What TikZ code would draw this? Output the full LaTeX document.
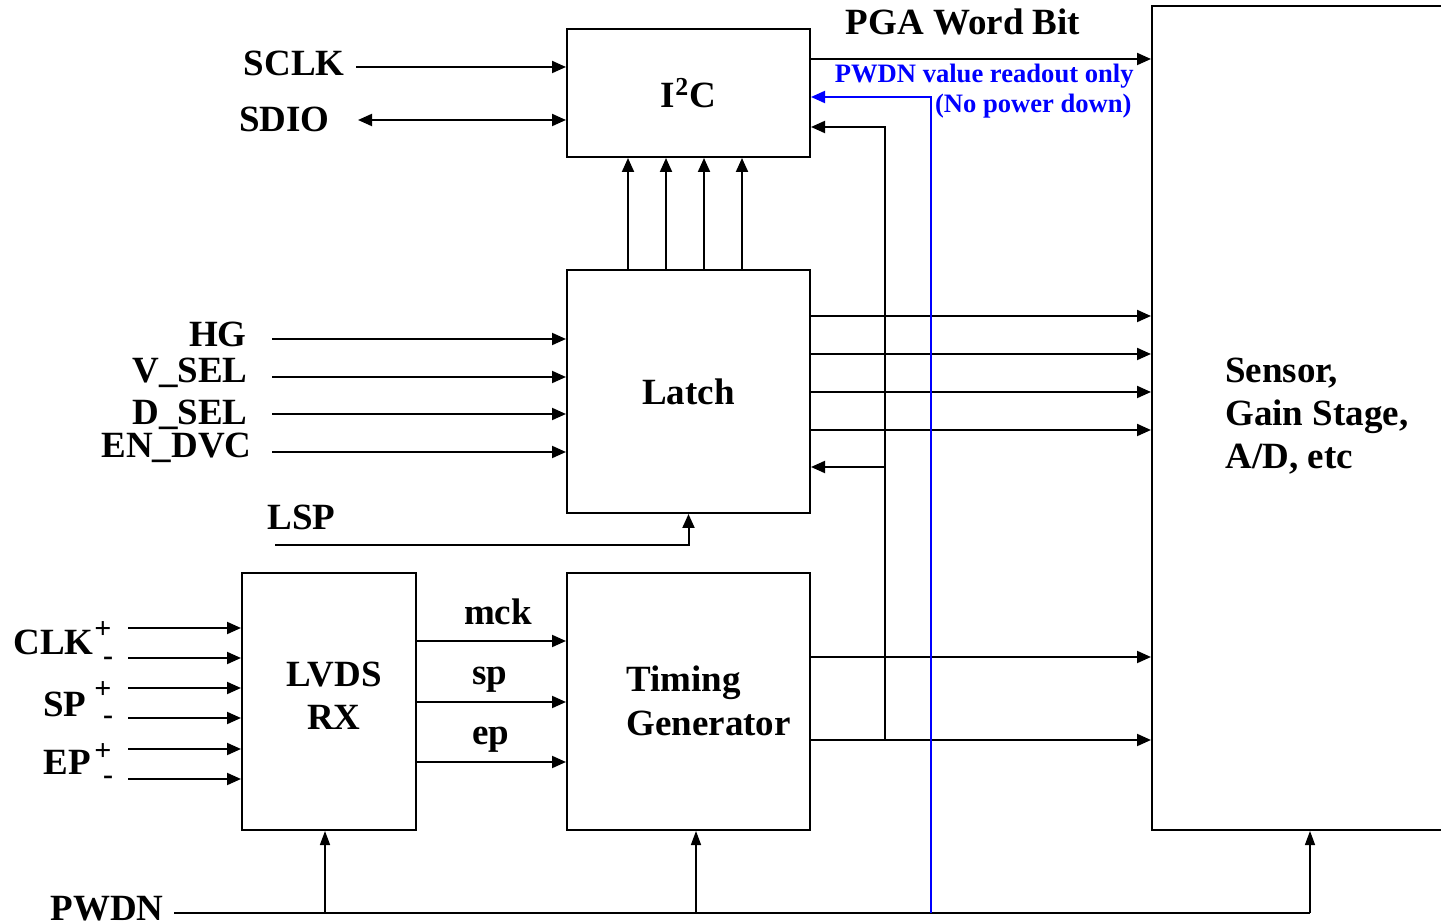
\documentclass[tikz,border=0pt]{standalone}
\usepackage{fontspec}
\setmainfont{Liberation Serif}
\usetikzlibrary{positioning,arrows.meta,calc}
\tikzset{
  blk/.style={draw, line width=1pt, inner sep=0pt, font=\fontsize{18.5}{21.5}\selectfont\bfseries},
  sig/.style={line width=1pt, -{Triangle[length=7pt,width=6pt]}},
  bisig/.style={line width=1pt, {Triangle[length=7pt,width=6pt]}-{Triangle[length=7pt,width=6pt]}},
  pwr/.style={line width=0.7pt, -{Triangle[length=7pt,width=5pt]}},
  lbl/.style={font=\fontsize{18.5}{21.5}\selectfont\bfseries, inner sep=0pt},
  pm/.style={font=\fontsize{15}{15}\selectfont\bfseries, inner sep=0pt},
  note/.style={font=\fontsize{13.3}{15}\selectfont\bfseries, text=blue, inner sep=0pt}
}
\begin{document}
\begin{tikzpicture}[x=0.5pt, y=-0.5pt]
    \useasboundingbox (0,0) rectangle (1441,924);

    % blocks
    \node[blk, minimum width=121.5pt, minimum height=64pt]    (i2c)    at (688.5,93)    {I\textsuperscript{2}C};
    \node[blk, minimum width=121.5pt, minimum height=121.5pt] (latch)  at (688.5,391.5) {Latch};
    \node[blk, minimum width=87pt, minimum height=128.5pt]    (lvds)   at (329,701.5)   {};
    \node[blk, minimum width=121.5pt, minimum height=128.5pt] (tg)     at (688.5,701.5) {};
    \node[blk, minimum width=154pt, minimum height=412pt]     (sensor) at (1306,418)    {};
    \node[lbl, anchor=base, align=center] (lvdstxt) at (334,730) {LVDS\\RX};
    \node[lbl, anchor=base west, align=left] (tgtxt) at (626,735) {Timing\\Generator};
    \node[lbl, anchor=base west, align=left] (sensortxt) at (1225,469) {Sensor,\\Gain Stage,\\A/D, etc};

    % serial port
    \coordinate (sclk) at (356,67);
    \coordinate (sdio) at (358,120);
    \node[lbl, anchor=base east] (sclklbl) at (345,76)  {SCLK};
    \node[lbl, anchor=base east] (sdiolbl) at (330,132) {SDIO};
    \draw[sig]   (sclk) -- (sclk -| i2c.west);
    \draw[bisig] (sdio) -- (sdio -| i2c.west);

    \node[lbl, anchor=base] (pgalbl) at (963,35) {PGA Word Bit};
    \draw[sig] (i2c.east |- 0,59) -- (sensor.west |- 0,59);

    % latch inputs
    \foreach \y/\name/\txt/\lx in {347/hg/HG/247, 383/vsel/V\_SEL/248, 425/dsel/D\_SEL/248, 458/endvc/EN\_DVC/252}{
      \node[lbl, anchor=base east] (\name) at (\lx,\y) {\txt};
    }
    \foreach \y in {339,377,414,452}{
      \draw[sig] (272,\y) coordinate (in\y) -- (latch.west |- in\y);
    }
    \node[lbl, anchor=base west] (lsplbl) at (267,530) {LSP};
    \coordinate (lsp) at (275,545);
    \draw[sig] (lsp) -- (lsp -| latch.south) -- (latch.south);

    % latch to i2c and sensor
    \foreach \x in {628,666,704,742}{
      \draw[sig] (latch.north -| \x,0) -- (i2c.south -| \x,0);
    }
    \foreach \y in {316,354,392,430}{
      \draw[sig] (latch.east |- 0,\y) -- (sensor.west |- 0,\y);
    }

    % lvds inputs
    \node[lbl, anchor=base west] (clklbl) at (13,655) {CLK};
    \node[lbl, anchor=base west] (splbl)  at (43,717) {SP};
    \node[lbl, anchor=base west] (eplbl)  at (43,775) {EP};
    \foreach \y in {630,690,752}{
      \node[pm] at (103,\y) {+};
    }
    \foreach \y in {661,720,780}{
      \node[pm] at (108,\y) {-};
    }
    \foreach \y in {628,658,688,718,749,779}{
      \draw[sig] (128,\y) coordinate (lv\y) -- (lvds.west |- lv\y);
    }

    % lvds to timing generator
    \foreach \y/\txt/\lx/\ly in {641/mck/498/625, 702/sp/490/685, 762/ep/491/745}{
      \draw[sig] (lvds.east |- 0,\y) -- (tg.west |- 0,\y);
      \node[lbl, anchor=base] at (\lx,\ly) {\txt};
    }

    % timing generator outputs
    \draw[sig] (tg.east |- 0,657) -- (sensor.west |- 0,657);
    \draw[sig] (tg.east |- 0,740) coordinate (tgout) -- (sensor.west |- 0,740);
    \coordinate (fb) at (885,740);
    \draw[sig] (fb) -- (885,127) -- (i2c.east |- 0,127);
    \draw[sig] (885,467) -- (latch.east |- 0,467);

    % power down
    \node[lbl, anchor=base west] (pwdnlbl) at (50,920) {PWDN};
    \coordinate (pwdn) at (174,913);
    \draw[line width=0.8pt] (pwdn) -- (1310,913);
    \draw[pwr] (325,913) -- (lvds.south -| 325,0);
    \draw[pwr] (696,913) -- (tg.south -| 696,0);
    \draw[pwr] (1310,913) -- (sensor.south -| 1310,0);

    \draw[sig, blue] (931,913) -- (931,97) -- (i2c.east |- 0,97);
    \node[note, anchor=base east] (note1) at (1134,83)  {PWDN value readout only};
    \node[note, anchor=base east] (note2) at (1132,113) {(No power down)};
\end{tikzpicture}
\end{document}
